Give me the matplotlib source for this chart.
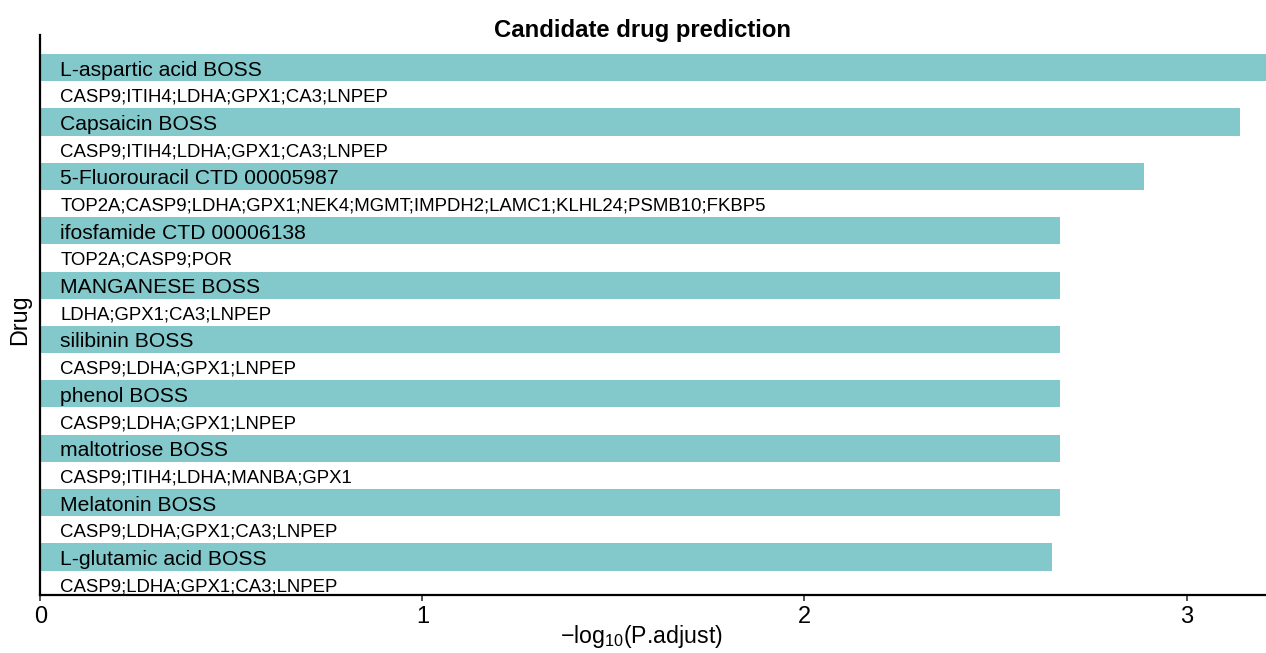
import numpy as np
import matplotlib
matplotlib.use("Agg")
import matplotlib.pyplot as plt

plt.rcParams['font.family'] = ['Liberation Sans', 'DejaVu Sans']
plt.rcParams['mathtext.fontset'] = 'custom'
plt.rcParams['mathtext.rm'] = 'Liberation Sans'
plt.rcParams['mathtext.it'] = 'Liberation Sans:italic'

drugs = [
    "L-aspartic acid BOSS",
    "Capsaicin BOSS",
    "5-Fluorouracil CTD 00005987",
    "ifosfamide CTD 00006138",
    "MANGANESE BOSS",
    "silibinin BOSS",
    "phenol BOSS",
    "maltotriose BOSS",
    "Melatonin BOSS",
    "L-glutamic acid BOSS",
]
genes = [
    "CASP9;ITIH4;LDHA;GPX1;CA3;LNPEP",
    "CASP9;ITIH4;LDHA;GPX1;CA3;LNPEP",
    "TOP2A;CASP9;LDHA;GPX1;NEK4;MGMT;IMPDH2;LAMC1;KLHL24;PSMB10;FKBP5",
    "TOP2A;CASP9;POR",
    "LDHA;GPX1;CA3;LNPEP",
    "CASP9;LDHA;GPX1;LNPEP",
    "CASP9;LDHA;GPX1;LNPEP",
    "CASP9;ITIH4;LDHA;MANBA;GPX1",
    "CASP9;LDHA;GPX1;CA3;LNPEP",
    "CASP9;LDHA;GPX1;CA3;LNPEP",
]
neg_log_padj = [3.208, 3.141, 2.888, 2.668, 2.668, 2.668, 2.668, 2.668, 2.668, 2.647]
x_ticks = [0, 1, 2, 3]

W, H = 1266, 653
fig = plt.figure(figsize=(W / 100, H / 100), dpi=100)
ax = fig.add_axes([40.3 / W, 1 - 595 / H, (W - 40.3) / W, (595 - 35) / H])

y = np.arange(len(drugs))
ax.barh(y, neg_log_padj, height=0.5, color="#83C9CC", edgecolor="none")

for yi, d, g in zip(y, drugs, genes):
    ax.annotate(d, xy=(0, yi), xytext=(14.5, -1.8), textcoords="offset points",
                va="center", ha="left", fontsize=15.2, color="black")
    ax.annotate(g, xy=(0, yi + 0.5), xytext=(14.5, -1.8), textcoords="offset points",
                va="center", ha="left", fontsize=13.4, color="black")

ax.set_xlim(0, max(neg_log_padj))
ax.set_ylim(len(drugs) - 1 + 0.7, -0.6)
ax.set_yticks([])
ax.set_xticks(x_ticks)
ax.set_xticklabels([str(t) for t in x_ticks], fontsize=17)
ax.tick_params(axis="x", length=4, width=1.2, color="#333333", pad=4)

for s in ["top", "right"]:
    ax.spines[s].set_visible(False)
for s in ["left", "bottom"]:
    ax.spines[s].set_linewidth(1.6)
    ax.spines[s].set_color("black")

fig.text(20 / W, 1 - 320 / H, "Drug", rotation=90, ha="center", va="center", fontsize=16.8)
fig.text(641 / W, 1 - 636 / H, "\u2212log$_{10}$(P.adjust)", ha="center", va="center", fontsize=16.7)
fig.text(643 / W, 1 - 30 / H, "Candidate drug prediction", ha="center", va="center",
         fontsize=17.2, fontweight="bold")

fig.savefig("out.png", dpi=100)
